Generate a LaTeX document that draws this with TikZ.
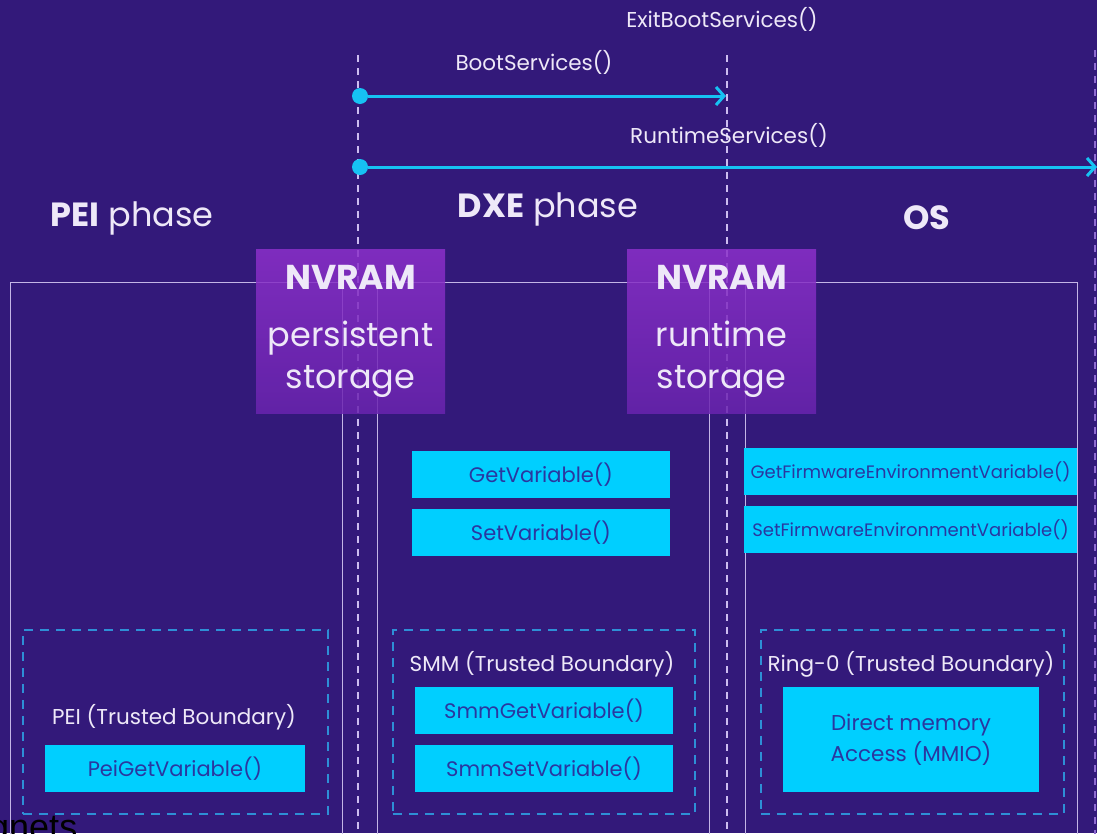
\documentclass[tikz,border=0pt]{standalone}
\usepackage{fontspec}
\setmainfont{Poppins}
\newfontfamily\gnetsfont{Liberation Sans}
\usetikzlibrary{arrows.meta}

\definecolor{bgpurple}{HTML}{33197A}
\definecolor{panelline}{HTML}{C4B5E6}
\definecolor{dashlav}{HTML}{CDBDF0}
\definecolor{dashedge}{HTML}{8E6AD0}
\definecolor{softwhite}{HTML}{EEE8F8}
\definecolor{flowcyan}{HTML}{16C2F3}
\definecolor{callcyan}{HTML}{00CFFF}
\definecolor{calltext}{HTML}{2A37A0}
\definecolor{trustblue}{HTML}{2E8FD6}
\definecolor{nvtop}{HTML}{8C30CA}
\definecolor{nvbot}{HTML}{6A24AF}

\begin{document}
\begin{tikzpicture}[x=1pt,y=-1pt,
  panel/.style={draw=panelline, line width=1.2pt, minimum width=332pt, minimum height=620pt, anchor=north west, inner sep=0pt},
  nvrambox/.style={top color=nvtop, bottom color=nvbot, fill opacity=0.85, text opacity=1, text=softwhite, minimum width=189pt, minimum height=164pt, align=center, inner sep=0pt, font=\fontsize{33.5}{42}\selectfont},
  callbox/.style={fill=callcyan, text=calltext, minimum width=258pt, minimum height=47pt, inner sep=0pt, font=\fontsize{21}{24}\selectfont},
  fwbox/.style={callbox, minimum width=333pt, font=\fontsize{18}{22}\selectfont},
  trustbox/.style={draw=trustblue, line width=1.5pt, dash pattern=on 9pt off 7pt, minimum width=303pt, minimum height=184pt, anchor=north west, inner sep=0pt},
  phaseline/.style={draw=dashlav, line width=1.6pt, dash pattern=on 7pt off 6pt},
  flow/.style={draw=flowcyan, line width=3pt, -{Straight Barb[length=8pt,width=18pt,line width=3pt]}},
  startdot/.style={circle, fill=flowcyan, minimum size=16pt, inner sep=0pt},
  calllabel/.style={text=softwhite, font=\fontsize{21.5}{25}\selectfont},
  phaselabel/.style={text=softwhite, font=\fontsize{33.5}{38}\selectfont},
]
\useasboundingbox[fill=bgpurple] (0,0) rectangle (1097,833);
\clip (0,0) rectangle (1097,833);

% phase panels
\node[panel] (pei) at (10,282) {};
\node[panel] (dxe) at (377,282) {};
\node[panel] (os) at (745,282) {};

% phase boundaries
\coordinate (dxeTop) at (358,55);
\coordinate (dxeBot) at (358,845);
\coordinate (osTop) at (727,55);
\coordinate (osBot) at (727,845);
\coordinate (edgeTop) at (1095,50);
\coordinate (edgeBot) at (1095,845);
\draw[phaseline] (dxeTop) -- (dxeBot);
\draw[phaseline] (osTop) -- (osBot);
\draw[phaseline, draw=dashedge] (edgeTop) -- (edgeBot);

% services
\node[calllabel] (exitbs) at (722,19) {ExitBootServices()};
\node[calllabel] (bslabel) at (534,62) {BootServices()};
\node[calllabel] (rtlabel) at (729,135) {RuntimeServices()};
\node[startdot] (bsStart) at (360,96) {};
\coordinate (bsEnd) at (726,96);
\draw[flow] (bsStart) -- (bsEnd);
\node[startdot] (rtStart) at (360,167) {};
\coordinate (rtEnd) at (1097,167);
\draw[flow] (rtStart) -- (rtEnd);

% phase names
\node[phaselabel] (peiName) at (132,218) {\textbf{PEI} phase};
\node[phaselabel] (dxeName) at (548,209) {\textbf{DXE} phase};
\node[phaselabel] (osName) at (927,218) {\textbf{OS}};

% nvram
\node[nvrambox] (nvPersist) at (350.5,331) {{\fontsize{34.5}{42}\selectfont\bfseries NVRAM}\\[15pt]
  persistent\\storage};
\node[nvrambox] (nvRuntime) at (721.5,331) {{\fontsize{34.5}{42}\selectfont\bfseries NVRAM}\\[15pt]
  runtime\\storage};

% services calls
\node[callbox] (getVar) at (541,474.5) {GetVariable()};
\node[callbox] (setVar) at (541,532.5) {SetVariable()};
\node[fwbox] (getFw) at (910.5,471.5) {GetFirmwareEnvironmentVariable()};
\node[fwbox] (setFw) at (910.5,529.5) {SetFirmwareEnvironmentVariable()};

% trusted boundaries
\node[trustbox, minimum width=305pt] (peiTrust) at (22,629) {};
\node[trustbox, minimum width=302pt] (smmTrust) at (392,629) {};
\node[trustbox] (ringTrust) at (760,629) {};
\node[calllabel] (peiTrustLabel) at (174,717) {PEI (Trusted Boundary)};
\node[calllabel] (smmTrustLabel) at (542,664) {SMM (Trusted Boundary)};
\node[calllabel] (ringTrustLabel) at (911,664) {Ring-0 (Trusted Boundary)};
\node[callbox, minimum width=260pt] (peiGet) at (175,768.5) {PeiGetVariable()};
\node[callbox] (smmGet) at (544,710.5) {SmmGetVariable()};
\node[callbox] (smmSet) at (544,768.5) {SmmSetVariable()};
\node[callbox, minimum width=256pt, minimum height=105pt, align=center, font=\fontsize{21.5}{31}\selectfont] (mmio) at (911,739.5) {Direct memory\\Access (MMIO)};

\node[anchor=base west, inner sep=0pt, font=\gnetsfont\fontsize{36}{40}\selectfont] (gnets) at (-11,839) {gnets};
\end{tikzpicture}
\end{document}
